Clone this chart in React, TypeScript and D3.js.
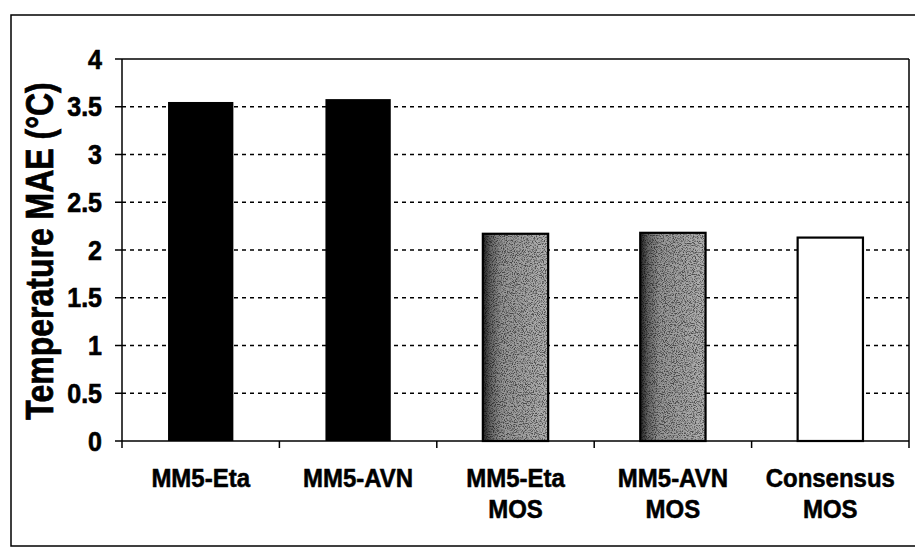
import React from "react";
import * as d3 from "d3";

const categories: string[][] = [
  ["MM5-Eta"],
  ["MM5-AVN"],
  ["MM5-Eta", "MOS"],
  ["MM5-AVN", "MOS"],
  ["Consensus", "MOS"],
];
const values: number[] = [3.55, 3.58, 2.17, 2.18, 2.13];
const barStyles: string[] = ["black", "black", "stipple", "stipple", "white"];
const yTicks: number[] = [0, 0.5, 1, 1.5, 2, 2.5, 3, 3.5, 4];
const yTitle = "Temperature MAE (°C)";

const W = 915;
const H = 548;
const left = 122;
const right = 909;
const top = 59;
const bottom = 441;
const font = "'Liberation Sans', Arial, Helvetica, sans-serif";

export default function App() {
  const x = d3
    .scaleBand<number>()
    .domain(categories.map((_, i) => i))
    .range([left, right])
    .paddingInner(0.585)
    .paddingOuter(0.2925);
  const y = d3.scaleLinear().domain([0, 4]).range([bottom, top]);
  const step = (right - left) / categories.length;

  return (
    <svg
      width={W}
      height={H}
      style={{ position: "absolute", left: 0, top: 0, background: "white" }}
    >
      <defs>
        <linearGradient id="stipGrad" x1="0" x2="1" y1="0" y2="0">
          <stop offset="0" stopColor="#222" />
          <stop offset="0.12" stopColor="#666" />
          <stop offset="0.3" stopColor="#959595" />
          <stop offset="1" stopColor="#b0b0b0" />
        </linearGradient>
        <filter id="noise" x="0" y="0" width="100%" height="100%">
          <feTurbulence type="fractalNoise" baseFrequency="0.9" numOctaves="2" seed="7" result="t" />
          <feColorMatrix
            in="t"
            type="matrix"
            values="0 0 0 0 0  0 0 0 0 0  0 0 0 0 0  -4 0 0 0 2.2"
          />
        </filter>
      </defs>

      {/* outer frame */}
      <rect x={11} y={15} width={W} height={531} fill="none" stroke="black" strokeWidth={1.5} />

      {/* gridlines */}
      {yTicks
        .filter((t) => t > 0 && t < 4)
        .map((t) => (
          <line
            key={"g" + t}
            x1={left}
            x2={right}
            y1={y(t)}
            y2={y(t)}
            stroke="black"
            strokeWidth={1.3}
            strokeDasharray="4,4"
          />
        ))}

      {/* plot border top and right */}
      <line x1={left} x2={right} y1={y(4)} y2={y(4)} stroke="black" strokeWidth={1.5} />
      <line x1={right} x2={right} y1={y(4)} y2={y(0)} stroke="black" strokeWidth={1.5} />

      {/* bars */}
      {values.map((v, i) => {
        const bx = x(i)!;
        const bw = x.bandwidth();
        const by = y(v);
        const bh = y(0) - y(v);
        const st = barStyles[i];
        if (st === "black") {
          return <rect key={i} x={bx} y={by} width={bw} height={bh} fill="black" />;
        }
        if (st === "white") {
          return (
            <rect key={i} x={bx} y={by} width={bw} height={bh} fill="white" stroke="black" strokeWidth={2.2} />
          );
        }
        return (
          <g key={i}>
            <rect x={bx} y={by} width={bw} height={bh} fill="url(#stipGrad)" />
            <rect x={bx} y={by} width={bw} height={bh} fill="black" filter="url(#noise)" opacity={0.55} />
            <rect x={bx} y={by} width={bw} height={bh} fill="none" stroke="black" strokeWidth={2.2} />
          </g>
        );
      })}

      {/* y axis */}
      <line x1={left} x2={left} y1={y(4)} y2={y(0)} stroke="black" strokeWidth={1.5} />
      {yTicks.map((t) => (
        <g key={"t" + t}>
          <line x1={left - 7} x2={left} y1={y(t)} y2={y(t)} stroke="black" strokeWidth={1.5} />
          <text
            transform={`translate(102,${y(t)}) scale(1,1.08)`}
            dy="0.36em"
            textAnchor="end"
            fontFamily={font}
            fontWeight="bold"
            fontSize={25}
            stroke="black"
            strokeWidth={0.6}
          >
            {String(t)}
          </text>
        </g>
      ))}

      {/* x axis */}
      <line x1={left} x2={right} y1={y(0)} y2={y(0)} stroke="black" strokeWidth={1.5} />
      {d3.range(categories.length + 1).map((k) => (
        <line
          key={"xt" + k}
          x1={left + k * step}
          x2={left + k * step}
          y1={y(0)}
          y2={y(0) + 7}
          stroke="black"
          strokeWidth={1.5}
        />
      ))}
      {categories.map((lines, i) => (
        <g key={"xl" + i}>
          {lines.map((l, j) => (
            <text
              key={j}
              transform={`translate(${x(i)! + x.bandwidth() / 2},${487 + j * 31}) scale(1,1.05)`}
              textAnchor="middle"
              fontFamily={font}
              fontWeight="bold"
              fontSize={24}
              stroke="black"
              strokeWidth={0.5}
            >
              {l}
            </text>
          ))}
        </g>
      ))}

      {/* y title */}
      <text
        transform={`translate(53,251) rotate(-90) scale(1,1.2)`}
        textAnchor="middle"
        fontFamily={font}
        fontWeight="bold"
        fontSize={32}
        stroke="black"
        strokeWidth={0.6}
      >
        {yTitle}
      </text>
    </svg>
  );
}
